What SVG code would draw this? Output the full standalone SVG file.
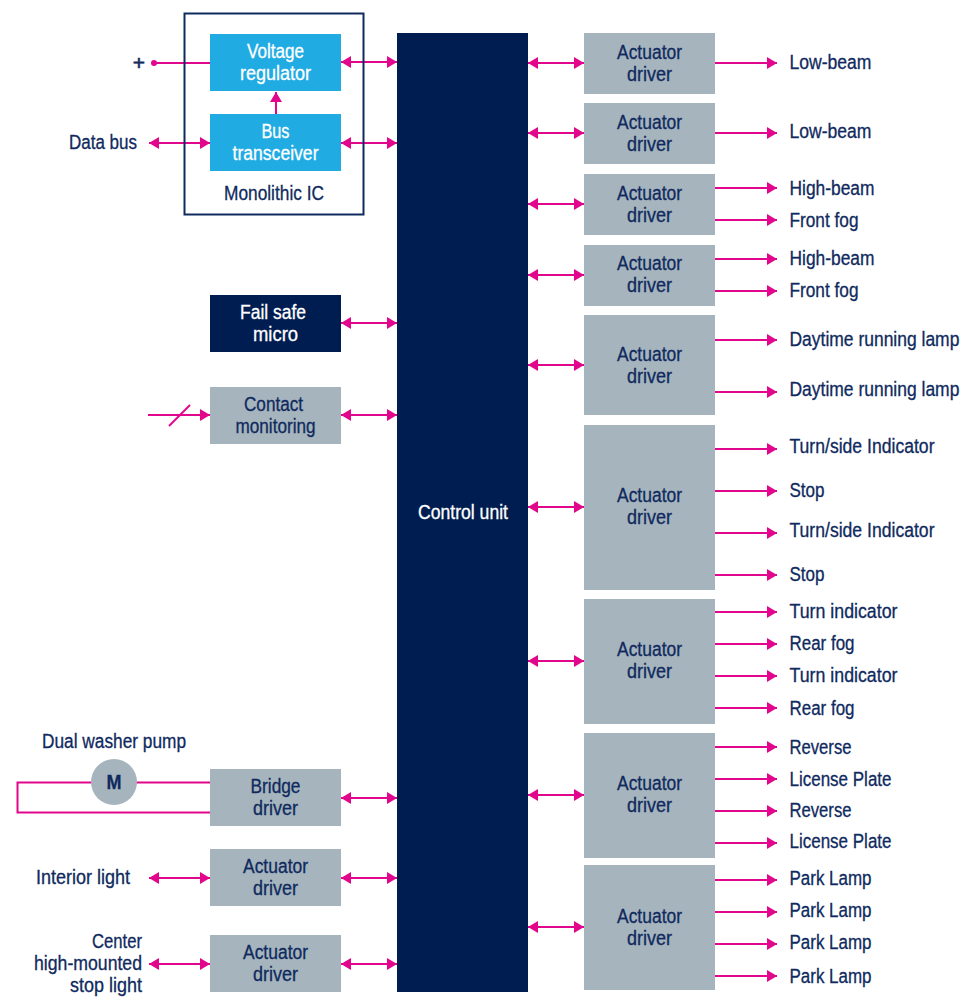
<svg xmlns="http://www.w3.org/2000/svg" width="969" height="1004" viewBox="0 0 969 1004">
<style>
text{font-family:"Liberation Sans",Arial,sans-serif;font-size:19.5px;fill:#0f2a5e;stroke:#0f2a5e;stroke-width:.3px;text-anchor:middle}
.l{text-anchor:start}.r{text-anchor:end}text.w{fill:#fff;stroke:#fff}
.g{fill:#a6b4bd}.b{fill:#20abe3}.n{fill:#001d51}
.c{fill:none;stroke:#e2068c;stroke-width:2}
.d{marker-start:url(#s);marker-end:url(#e)}.a{marker-end:url(#e)}
</style>
<defs>
<marker id="e" markerUnits="userSpaceOnUse" markerWidth="11" markerHeight="13" refX="10" refY="6" orient="auto"><path d="M0 0L10 6L0 12Z" fill="#e2068c"/></marker>
<marker id="s" markerUnits="userSpaceOnUse" markerWidth="11" markerHeight="13" refX="0" refY="6" orient="auto"><path d="M10 0L0 6L10 12Z" fill="#e2068c"/></marker>
</defs>
<g id="connectors" class="conn">
<path class="c" d="M154 63H210"/><circle cx="154" cy="63" r="3" fill="#e2068c"/>
<path class="c a" d="M276 114V92"/>
<path class="c d" d="M149 143H210"/>
<path class="c a" d="M148 415H210"/><path class="c" d="M169 426L190 405"/>
<path class="c" d="M210 782.500H17.500V812.500H210"/>
<path class="c d" d="M149 878H210"/><path class="c d" d="M149 964H210"/>
<path class="c d" d="M341 62H397"/><path class="c d" d="M341 143H397"/><path class="c d" d="M341 323H397"/><path class="c d" d="M341 415H397"/><path class="c d" d="M341 798H397"/><path class="c d" d="M341 878H397"/><path class="c d" d="M341 964H397"/>
<path class="c d" d="M528 63H584"/><path class="c d" d="M528 133H584"/><path class="c d" d="M528 204H584"/><path class="c d" d="M528 275H584"/><path class="c d" d="M528 365H584"/><path class="c d" d="M528 507H584"/><path class="c d" d="M528 661H584"/><path class="c d" d="M528 795H584"/><path class="c d" d="M528 927H584"/>
<path class="c a" d="M715 63H777"/><path class="c a" d="M715 133H777"/><path class="c a" d="M715 188H777"/><path class="c a" d="M715 220H777"/><path class="c a" d="M715 259H777"/><path class="c a" d="M715 291H777"/><path class="c a" d="M715 340H777"/><path class="c a" d="M715 392H777"/><path class="c a" d="M715 449H777"/><path class="c a" d="M715 491H777"/><path class="c a" d="M715 533H777"/><path class="c a" d="M715 575H777"/><path class="c a" d="M715 612H777"/><path class="c a" d="M715 644H777"/><path class="c a" d="M715 676H777"/><path class="c a" d="M715 708H777"/><path class="c a" d="M715 747H777"/><path class="c a" d="M715 779H777"/><path class="c a" d="M715 811H777"/><path class="c a" d="M715 843H777"/><path class="c a" d="M715 880H777"/><path class="c a" d="M715 912H777"/><path class="c a" d="M715 944H777"/><path class="c a" d="M715 976H777"/>
</g>
<g id="monolithic-ic"><rect x="184.500" y="13.500" width="179" height="201" fill="none" stroke="#0f2a5e" stroke-width="2"/><text x="274" y="200" textLength="100" lengthAdjust="spacingAndGlyphs">Monolithic IC</text></g>
<g id="voltage-regulator"><rect class="b" x="210" y="34" width="131" height="57"/><text class="w" x="275.500" y="58" textLength="57" lengthAdjust="spacingAndGlyphs">Voltage</text><text class="w" x="275.500" y="80" textLength="71" lengthAdjust="spacingAndGlyphs">regulator</text></g>
<g id="bus-transceiver"><rect class="b" x="210" y="114" width="131" height="57"/><text class="w" x="275.500" y="138" textLength="28" lengthAdjust="spacingAndGlyphs">Bus</text><text class="w" x="275.500" y="160" textLength="86" lengthAdjust="spacingAndGlyphs">transceiver</text></g>
<g id="fail-safe"><rect class="n" x="210" y="295" width="131" height="57"/><text class="w" x="273" y="319" textLength="66" lengthAdjust="spacingAndGlyphs">Fail safe</text><text class="w" x="275.500" y="341" textLength="45" lengthAdjust="spacingAndGlyphs">micro</text></g>
<g id="contact-monitoring"><rect class="g" x="210" y="387" width="131" height="57"/><text x="273.500" y="411" textLength="59" lengthAdjust="spacingAndGlyphs">Contact</text><text x="275.500" y="433" textLength="80" lengthAdjust="spacingAndGlyphs">monitoring</text></g>
<g id="motor"><circle class="g" cx="114" cy="782" r="23"/><text x="114" y="789" font-weight="bold" textLength="15" lengthAdjust="spacingAndGlyphs">M</text></g>
<g id="bridge-driver"><rect class="g" x="210" y="769" width="131" height="57"/><text x="275.500" y="793" textLength="50" lengthAdjust="spacingAndGlyphs">Bridge</text><text x="275.500" y="815" textLength="45" lengthAdjust="spacingAndGlyphs">driver</text></g>
<g id="driver-interior"><rect class="g" x="210" y="849" width="131" height="57"/><text x="275.500" y="873" textLength="65" lengthAdjust="spacingAndGlyphs">Actuator</text><text x="275.500" y="895" textLength="45" lengthAdjust="spacingAndGlyphs">driver</text></g>
<g id="driver-stop"><rect class="g" x="210" y="935" width="131" height="57"/><text x="275.500" y="959" textLength="65" lengthAdjust="spacingAndGlyphs">Actuator</text><text x="275.500" y="981" textLength="45" lengthAdjust="spacingAndGlyphs">driver</text></g>
<g id="control-unit"><rect class="n" x="397" y="33" width="131" height="959"/><text class="w" x="463" y="519" textLength="90" lengthAdjust="spacingAndGlyphs">Control unit</text></g>
<g id="ad1"><rect class="g" x="584" y="33" width="131" height="61"/><text x="649.500" y="59" textLength="65" lengthAdjust="spacingAndGlyphs">Actuator</text><text x="649.500" y="81" textLength="45" lengthAdjust="spacingAndGlyphs">driver</text></g>
<g id="ad2"><rect class="g" x="584" y="103" width="131" height="61"/><text x="649.500" y="129" textLength="65" lengthAdjust="spacingAndGlyphs">Actuator</text><text x="649.500" y="151" textLength="45" lengthAdjust="spacingAndGlyphs">driver</text></g>
<g id="ad3"><rect class="g" x="584" y="174" width="131" height="61"/><text x="649.500" y="200" textLength="65" lengthAdjust="spacingAndGlyphs">Actuator</text><text x="649.500" y="222" textLength="45" lengthAdjust="spacingAndGlyphs">driver</text></g>
<g id="ad4"><rect class="g" x="584" y="245" width="131" height="61"/><text x="649.500" y="270" textLength="65" lengthAdjust="spacingAndGlyphs">Actuator</text><text x="649.500" y="292" textLength="45" lengthAdjust="spacingAndGlyphs">driver</text></g>
<g id="ad5"><rect class="g" x="584" y="315" width="131" height="100"/><text x="649.500" y="361" textLength="65" lengthAdjust="spacingAndGlyphs">Actuator</text><text x="649.500" y="383" textLength="45" lengthAdjust="spacingAndGlyphs">driver</text></g>
<g id="ad6"><rect class="g" x="584" y="425" width="131" height="165"/><text x="649.500" y="502" textLength="65" lengthAdjust="spacingAndGlyphs">Actuator</text><text x="649.500" y="524" textLength="45" lengthAdjust="spacingAndGlyphs">driver</text></g>
<g id="ad7"><rect class="g" x="584" y="599" width="131" height="125"/><text x="649.500" y="656" textLength="65" lengthAdjust="spacingAndGlyphs">Actuator</text><text x="649.500" y="678" textLength="45" lengthAdjust="spacingAndGlyphs">driver</text></g>
<g id="ad8"><rect class="g" x="584" y="733" width="131" height="125"/><text x="649.500" y="790" textLength="65" lengthAdjust="spacingAndGlyphs">Actuator</text><text x="649.500" y="812" textLength="45" lengthAdjust="spacingAndGlyphs">driver</text></g>
<g id="ad9"><rect class="g" x="584" y="865" width="131" height="125"/><text x="649.500" y="923" textLength="65" lengthAdjust="spacingAndGlyphs">Actuator</text><text x="649.500" y="945" textLength="45" lengthAdjust="spacingAndGlyphs">driver</text></g>
<g id="labels-left">
<text x="139" y="70" style="font-size:21px;stroke-width:.6px">+</text>
<text class="r" x="137" y="149" textLength="68" lengthAdjust="spacingAndGlyphs">Data bus</text>
<text x="114" y="748" textLength="144" lengthAdjust="spacingAndGlyphs">Dual washer pump</text>
<text class="r" x="130" y="884" textLength="94" lengthAdjust="spacingAndGlyphs">Interior light</text>
<text class="r" x="142" y="948" textLength="50" lengthAdjust="spacingAndGlyphs">Center</text>
<text class="r" x="142" y="970" textLength="108" lengthAdjust="spacingAndGlyphs">high-mounted</text>
<text class="r" x="142" y="992" textLength="72" lengthAdjust="spacingAndGlyphs">stop light</text>
</g>
<g id="labels-right">
<text class="l" x="789.500" y="69" textLength="82" lengthAdjust="spacingAndGlyphs">Low-beam</text>
<text class="l" x="789.500" y="138" textLength="82" lengthAdjust="spacingAndGlyphs">Low-beam</text>
<text class="l" x="789.500" y="195" textLength="85" lengthAdjust="spacingAndGlyphs">High-beam</text>
<text class="l" x="789.500" y="227" textLength="69" lengthAdjust="spacingAndGlyphs">Front fog</text>
<text class="l" x="789.500" y="265" textLength="85" lengthAdjust="spacingAndGlyphs">High-beam</text>
<text class="l" x="789.500" y="297" textLength="69" lengthAdjust="spacingAndGlyphs">Front fog</text>
<text class="l" transform="translate(789.500 346) scale(.8966 1)">Daytime running lamp</text>
<text class="l" transform="translate(789.500 396) scale(.8966 1)">Daytime running lamp</text>
<text class="l" x="789.500" y="453" textLength="145" lengthAdjust="spacingAndGlyphs">Turn/side Indicator</text>
<text class="l" x="789.500" y="497" textLength="35" lengthAdjust="spacingAndGlyphs">Stop</text>
<text class="l" x="789.500" y="537" textLength="145" lengthAdjust="spacingAndGlyphs">Turn/side Indicator</text>
<text class="l" x="789.500" y="581" textLength="35" lengthAdjust="spacingAndGlyphs">Stop</text>
<text class="l" x="789.500" y="618" textLength="108" lengthAdjust="spacingAndGlyphs">Turn indicator</text>
<text class="l" x="789.500" y="650" textLength="65" lengthAdjust="spacingAndGlyphs">Rear fog</text>
<text class="l" x="789.500" y="682" textLength="108" lengthAdjust="spacingAndGlyphs">Turn indicator</text>
<text class="l" x="789.500" y="715" textLength="65" lengthAdjust="spacingAndGlyphs">Rear fog</text>
<text class="l" x="789.500" y="754" textLength="62" lengthAdjust="spacingAndGlyphs">Reverse</text>
<text class="l" x="789.500" y="786" textLength="102" lengthAdjust="spacingAndGlyphs">License Plate</text>
<text class="l" x="789.500" y="817" textLength="62" lengthAdjust="spacingAndGlyphs">Reverse</text>
<text class="l" x="789.500" y="848" textLength="102" lengthAdjust="spacingAndGlyphs">License Plate</text>
<text class="l" x="789.500" y="885" textLength="82" lengthAdjust="spacingAndGlyphs">Park Lamp</text>
<text class="l" x="789.500" y="917" textLength="82" lengthAdjust="spacingAndGlyphs">Park Lamp</text>
<text class="l" x="789.500" y="949" textLength="82" lengthAdjust="spacingAndGlyphs">Park Lamp</text>
<text class="l" x="789.500" y="983" textLength="82" lengthAdjust="spacingAndGlyphs">Park Lamp</text>
</g>
</svg>
